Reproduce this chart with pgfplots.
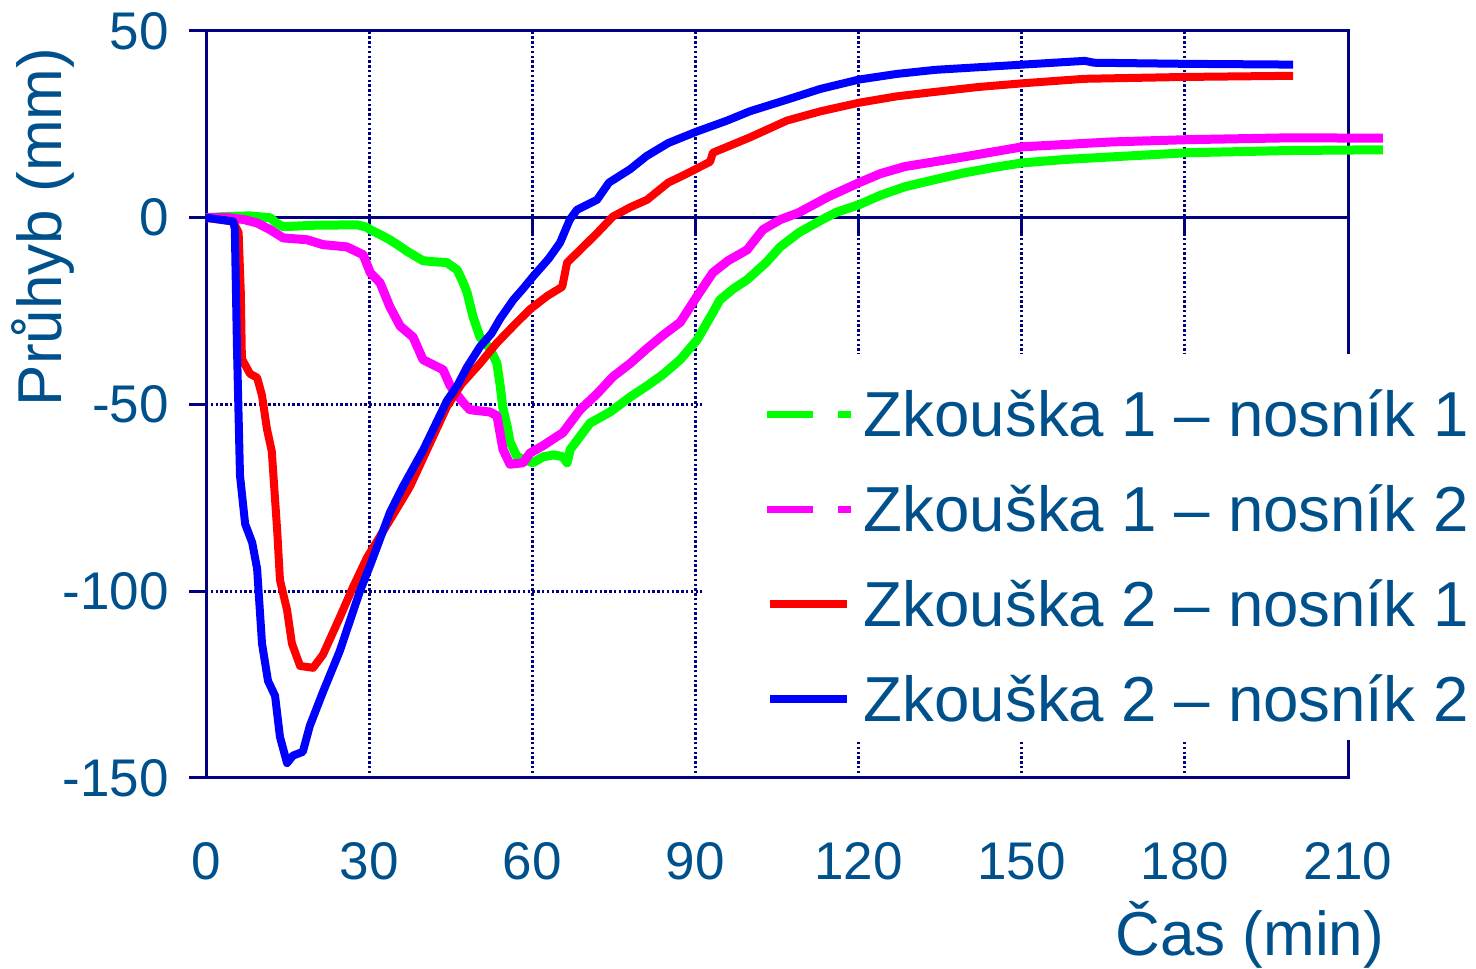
\documentclass[border=0pt]{standalone}
\usepackage{fontspec}
\setmainfont{Liberation Sans}
\usepackage{pgfplots}
\pgfplotsset{compat=1.18}
\definecolor{navyax}{RGB}{0,0,128}
\definecolor{lbl}{RGB}{0,80,140}
\definecolor{cgreen}{RGB}{0,255,0}
\definecolor{cmag}{RGB}{255,0,255}
\definecolor{cred}{RGB}{255,0,0}
\definecolor{cblue}{RGB}{0,0,255}
\begin{document}
\begin{tikzpicture}
\begin{axis}[
 set layers,
 at={(103pt,95pt)}, anchor=south west,
 scale only axis, width=571pt, height=373.5pt,
 xmin=0, xmax=210, ymin=-150, ymax=50,
 clip=false,
 axis line style={navyax, line width=1.5pt},
 xtick={0,30,...,210}, ytick={-150,-100,...,50},
 tick align=outside, ytick pos=left, xtick pos=bottom,
 major tick length=8.5pt,
 ytick style={navyax, line width=1.5pt},
 xtick style={draw=none},
 xmajorgrids, ymajorgrids,
 major grid style={navyax, line width=1.5pt, dash pattern=on 1.2pt off 1.2pt},
 /pgf/number format/assume math mode=true,
 ticklabel style={font=\fontsize{26.5}{30}\selectfont, text=lbl},
 xticklabel style={anchor=north, inner sep=0pt, yshift=-23.5pt},
 yticklabel style={anchor=east, inner sep=0pt, xshift=-10pt},
 xlabel={Čas (min)}, ylabel={Průhyb (mm)},
 every axis x label/.style={at={(axis description cs:0.914,-0.2370)}, anchor=base, font=\fontsize{31}{36}\selectfont, text=lbl},
 every axis y label/.style={at={(axis description cs:-0.1261,0.7376)}, anchor=base, rotate=90, font=\fontsize{31}{36}\selectfont, text=lbl},
 legend style={draw=none, fill=none, inner sep=0pt, at={(axis description cs:0.4878,0.5207)}, anchor=north west, font=\fontsize{31.8}{38}\selectfont, row sep=22.6pt, column sep=0pt, nodes={inner sep=0pt, text=lbl}, cells={anchor=west}},
]
\draw[navyax, line width=1.5pt] (axis cs:0,0) -- (axis cs:210,0);
\pgfplotsinvokeforeach{0,30,60,90,120,150,180,210}{\draw[navyax, line width=1.5pt] (axis cs:#1,0) -- ++(0pt,-8.5pt);}

\addplot[cgreen, line width=4.5pt, line join=round, legend image code/.code={\draw[cgreen, line width=3.5pt, dash pattern=on 23pt off 12.5pt on 6.5pt off 20pt] (0pt,0pt) -- (42pt,0pt); \path (46pt,0pt);}] table {
0 0
3 0.3
8 0.5
11.8 0
13 -1.5
14.2 -2.4
20 -2
27.8 -1.9
29.5 -2.5
30.2 -3.2
32 -4.5
33.8 -5.9
35.5 -7.5
37 -9
39.9 -11.5
42 -11.8
44.3 -12
46.2 -14
47.3 -17.4
48 -20
49.1 -26.5
50.4 -32
52.2 -35
53.5 -39
54.1 -45
54.6 -51
55.4 -56
55.9 -60
57.2 -64
60.1 -65.6
62 -64
64 -63.5
65.6 -64
66.4 -65.6
67 -62
70.6 -55
74.3 -52
78 -48
81.1 -45
84 -42
87.2 -38
90.3 -32.7
93.2 -25.4
94.5 -22
97 -19
99.5 -16.6
103 -12
105.6 -7.8
109 -4
113.3 -0.5
116 1.5
120.1 3.5
124 6
128.5 8.3
134 10.2
139.4 12
145 13.5
150.2 14.7
158 15.6
166.6 16.3
180.4 17.4
199.3 18
216.4 18.2
};
\addlegendentry{Zkouška 1 – nosník 1}

\addplot[cmag, line width=4.5pt, line join=round, legend image code/.code={\draw[cmag, line width=3.5pt, dash pattern=on 23pt off 12.5pt on 6.5pt off 20pt] (0pt,0pt) -- (42pt,0pt); \path (46pt,0pt);}] table {
0 0
4.4 0
7 -0.5
9.4 -1.4
11.8 -3.2
14.2 -5.4
18.6 -5.9
21.5 -7.2
25.9 -7.8
28.9 -9.9
30.2 -14.7
32 -17.4
33.8 -23.8
35.7 -29
38.1 -32
39.9 -38
43.6 -40.7
44.9 -45
47.3 -49.5
48.5 -51.4
52.2 -52
53.5 -53
54.6 -62
55.9 -66
58.3 -65.6
59.6 -63
62 -61
64.5 -58.6
65.6 -57.6
68.8 -51.4
72 -47
74.8 -42.6
78 -39
81.1 -35
84 -31.5
87.2 -28
90.3 -21
93.2 -14.7
96 -11.5
99.5 -8.6
102.4 -3.2
105.6 -0.5
108.9 1.3
114.4 5.6
120.1 9.4
124 11.8
128.5 13.7
134 15
139.4 16.3
150.2 19
166.6 20.3
180.4 20.9
199.3 21.4
216.4 21.3
};
\addlegendentry{Zkouška 1 – nosník 2}

\addplot[cred, line width=4pt, line join=round, legend image code/.code={\draw[cred, line width=4pt] (1.5pt,0pt) -- (40pt,0pt); \path (0pt,0pt) (46pt,0pt);}] table {
0 0
5 -1
6 -4
6.4 -20
6.6 -37.8
8.1 -41.8
9.4 -42.8
10.3 -47.6
11.2 -56.5
12.1 -62.6
13.1 -84
13.6 -97
14.9 -105
15.8 -114
17.3 -120
19.7 -120.5
21.5 -117
24.6 -107
27 -99
29.6 -91
33.8 -81
37.5 -72
41 -61
44.3 -50.6
47 -44.5
50.4 -39
53.5 -33.5
56.5 -29
59.6 -24.5
62.7 -21
65.5 -18.5
66.4 -12
68.8 -8.6
72 -4
74.8 0.3
78 2.8
81.1 4.8
85 9.4
88 11.5
92.7 15
93.2 17.4
100 21.5
106.8 26
113 28.5
120.1 30.8
127 32.5
134.1 33.7
142 35
150.2 36
161.6 37.2
180.4 37.7
199.9 38
};
\addlegendentry{Zkouška 2 – nosník 1}

\addplot[cblue, line width=4pt, line join=round, legend image code/.code={\draw[cblue, line width=4pt] (1.5pt,0pt) -- (40pt,0pt); \path (0pt,0pt) (46pt,0pt);}] table {
0 0
5 -1
5.3 -3
5.7 -35
6.25 -69
7.2 -82
8.5 -87
9.4 -94
10.3 -114
11.4 -124
12.7 -128
13.6 -139
14.9 -146
16 -144
17.8 -143
19.1 -136
21.5 -127
24.6 -116
28.3 -100
30.2 -93
33.8 -79
36.2 -72
40 -62
44.3 -49
46.2 -45
48 -40
50.4 -34.5
52.5 -31
54.1 -27
56.5 -22
58.3 -19
60.1 -15.8
63 -11
65.1 -6.7
66.9 -0.5
68.2 2.1
71.9 4.8
74.1 9.4
78 13
81 16.5
85 20
90.1 23
95.8 26
100 28.5
106.8 31.6
113 34.5
120.1 37
127 38.5
134.1 39.6
150.2 41
161.6 42
163.3 41.5
180.4 41.2
199.9 41
};
\addlegendentry{Zkouška 2 – nosník 2}

\fill[white] (axis cs:91.2,-36.4) rectangle (axis cs:240,-139.8);
\end{axis}
\pgfresetboundingbox
\path[use as bounding box] (0,0) rectangle (738pt,484pt);
\end{tikzpicture}
\end{document}
